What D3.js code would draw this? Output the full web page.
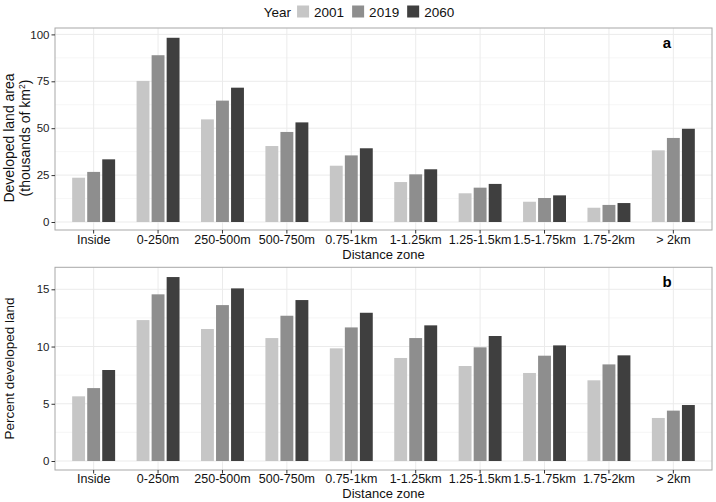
<!DOCTYPE html>
<html>
<head>
<meta charset="utf-8">
<script src="https://cdn.jsdelivr.net/npm/d3@7"></script>
<style>
  html, body { margin: 0; padding: 0; background: #fff; }
  svg { display: block; font-family: "Liberation Sans", Arial, Helvetica, sans-serif; }
</style>
</head>
<body>
<svg id="chart" width="716" height="502"></svg>
<script>
// ---------- data ----------
const categories = ["Inside", "0-250m", "250-500m", "500-750m", "0.75-1km", "1-1.25km", "1.25-1.5km", "1.5-1.75km", "1.75-2km", "> 2km"];
const years = ["2001", "2019", "2060"];
const yearColors = ["#c6c6c6", "#8e8e8e", "#3f3f3f"];

// Panel a: developed land area (thousands of km²)
const area2001 = [23.6, 75.2, 54.7, 40.5, 30.0, 21.3, 15.3, 10.8, 7.6, 38.2];
const area2019 = [26.7, 88.9, 64.7, 48.0, 35.5, 25.4, 18.3, 12.8, 9.1, 44.8];
const area2060 = [33.4, 98.2, 71.6, 53.1, 39.3, 28.1, 20.3, 14.2, 10.1, 49.7];

// Panel b: percent developed land
const pct2001 = [5.65, 12.31, 11.53, 10.74, 9.84, 9.0, 8.3, 7.69, 7.05, 3.76];
const pct2019 = [6.37, 14.56, 13.62, 12.69, 11.67, 10.74, 9.93, 9.2, 8.44, 4.4];
const pct2060 = [7.95, 16.07, 15.08, 14.06, 12.95, 11.85, 10.92, 10.1, 9.23, 4.89];

const areaTicks = [0, 25, 50, 75, 100];
const areaMinor = [12.5, 37.5, 62.5, 87.5];
const pctTicks = [0, 5, 10, 15];
const pctMinor = [2.5, 7.5, 12.5];

// ---------- layout ----------
const svg = d3.select("#chart");
const panelX0 = 55, panelX1 = 712;

const x = d3.scaleBand().domain(categories).range([panelX0, panelX1]).paddingInner(0).paddingOuter(0.1);
const step = x.step();
const xSub = d3.scaleBand().domain(years).range([-0.35 * step, 0.35 * step]).paddingInner(0);
const barW = 0.2 * step;
const color = d3.scaleOrdinal().domain(years).range(yearColors);

function drawPanel(cfg) {
  const g = svg.append("g");
  const y = d3.scaleLinear().domain(cfg.domain).range(cfg.range);

  g.append("rect").attr("x", panelX0).attr("y", cfg.top).attr("width", panelX1 - panelX0).attr("height", cfg.bottom - cfg.top)
    .attr("fill", "#fff");

  // minor grid
  g.selectAll(".minor").data(cfg.minor).join("line")
    .attr("x1", panelX0).attr("x2", panelX1)
    .attr("y1", d => y(d)).attr("y2", d => y(d))
    .attr("stroke", "#f0f0f0").attr("stroke-width", 0.6);
  // major grid
  g.selectAll(".majorY").data(cfg.ticks).join("line")
    .attr("x1", panelX0).attr("x2", panelX1)
    .attr("y1", d => y(d)).attr("y2", d => y(d))
    .attr("stroke", "#ebebeb").attr("stroke-width", 1);
  g.selectAll(".majorX").data(categories).join("line")
    .attr("x1", d => x(d) + step / 2).attr("x2", d => x(d) + step / 2)
    .attr("y1", cfg.top).attr("y2", cfg.bottom)
    .attr("stroke", "#ebebeb").attr("stroke-width", 1);

  // bars
  const rows = [];
  categories.forEach((c, i) => {
    years.forEach((yr, j) => rows.push({ cat: c, year: yr, value: cfg.series[j][i] }));
  });
  g.selectAll(".bar").data(rows).join("rect")
    .attr("x", d => x(d.cat) + step / 2 + xSub(d.year) + (xSub.bandwidth() - barW) / 2)
    .attr("width", barW)
    .attr("y", d => y(d.value))
    .attr("height", d => y(0) - y(d.value))
    .attr("fill", d => color(d.year));

  // panel border
  g.append("rect").attr("x", panelX0).attr("y", cfg.top).attr("width", panelX1 - panelX0).attr("height", cfg.bottom - cfg.top)
    .attr("fill", "none").attr("stroke", "#a8a8a8").attr("stroke-width", 1);

  // y axis
  const ya = g.append("g").attr("transform", `translate(${panelX0},0)`)
    .call(d3.axisLeft(y).tickValues(cfg.ticks).tickSize(3.5).tickPadding(2).tickFormat(d3.format("d")));
  ya.select(".domain").remove();
  ya.selectAll(".tick line").attr("stroke", "#333");
  ya.selectAll(".tick text").attr("fill", "#222").attr("font-size", 11.5).attr("font-family", null);

  // x axis
  const xa = g.append("g").attr("transform", `translate(0,${cfg.bottom})`)
    .call(d3.axisBottom(x).tickSize(3.5).tickPadding(2));
  xa.select(".domain").remove();
  xa.selectAll(".tick line").attr("stroke", "#333");
  xa.selectAll(".tick text").attr("fill", "#111").attr("font-size", 12.5).attr("font-family", null)
    .attr("dy", null).attr("y", cfg.tickBaseline - cfg.bottom);

  // x title
  g.append("text").attr("x", (panelX0 + panelX1) / 2).attr("y", cfg.xTitleY)
    .attr("text-anchor", "middle").attr("font-size", 13).attr("fill", "#111").text("Distance zone");

  // y title
  cfg.yTitle.forEach((line, k) => {
    g.append("text")
      .attr("transform", `translate(${cfg.yTitleX[k]},${cfg.yTitleCY}) rotate(-90)`)
      .attr("text-anchor", "middle").attr("font-size", cfg.yTitleSize).attr("fill", "#111")
      .html(line);
  });

  // panel letter
  g.append("text").attr("x", 667).attr("y", cfg.letterY).attr("text-anchor", "middle")
    .attr("font-size", 15).attr("font-weight", "bold").attr("fill", "#000").text(cfg.letter);
}

drawPanel({
  domain: [0, 100], range: [222, 34.4], top: 28, bottom: 230,
  ticks: areaTicks, minor: areaMinor,
  series: [area2001, area2019, area2060],
  tickBaseline: 244, xTitleY: 259,
  yTitle: ["Developed land area", "(thousands of km<tspan dy='-5' font-size='8.5'>2</tspan><tspan dy='5'>)</tspan>"],
  yTitleX: [14, 30], yTitleCY: 138, yTitleSize: 14,
  letter: "a", letterY: 48
});

drawPanel({
  domain: [0, 15], range: [461, 289.3], top: 267.3, bottom: 470,
  ticks: pctTicks, minor: pctMinor,
  series: [pct2001, pct2019, pct2060],
  tickBaseline: 483, xTitleY: 498,
  yTitle: ["Percent developed land"],
  yTitleX: [14], yTitleCY: 368.5, yTitleSize: 13.5,
  letter: "b", letterY: 287
});

// ---------- legend ----------
const leg = svg.append("g");
const ly = 17;
const legFont = 13.5, keySize = 12;
let lx = 0;
const title = leg.append("text").attr("x", lx).attr("y", ly).attr("font-size", legFont).attr("fill", "#111").text("Year");
lx += title.node().getComputedTextLength() + 6;
years.forEach((yr) => {
  leg.append("rect").attr("x", lx).attr("y", ly - 11.5).attr("width", keySize).attr("height", keySize).attr("fill", color(yr));
  lx += keySize + 5;
  const t = leg.append("text").attr("x", lx).attr("y", ly).attr("font-size", legFont).attr("fill", "#111").text(yr);
  lx += t.node().getComputedTextLength() + 8;
});
lx -= 8;
leg.attr("transform", `translate(${359 - lx / 2},0)`);
</script>
</body>
</html>
